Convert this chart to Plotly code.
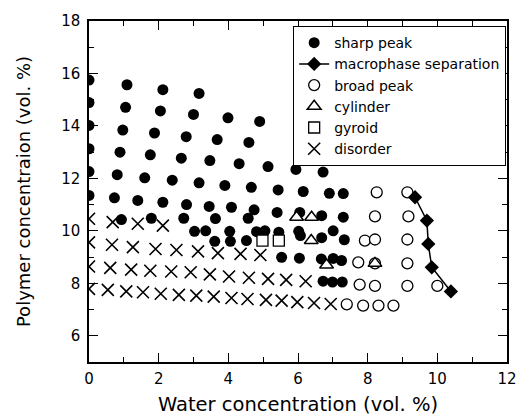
import plotly.graph_objects as go

# ---- data ----
sharp_x = [0, 1.09, 2.12, 3.16,
           0, 1.05, 2.05, 3.0, 3.99, 4.9,
           0, 0.97, 1.88, 2.79, 3.68, 4.59,
           0, 0.89, 1.76, 2.65, 3.47, 4.31, 5.14, 5.94, 6.72,
           0, 0.81, 1.6, 2.39, 3.16, 3.9, 4.66, 5.43, 6.15, 6.9, 7.3,
           0, 0.73, 1.4, 2.12, 2.8, 3.45, 4.09, 4.74, 5.4, 6.05, 6.68, 7.3,
           0.93, 1.79, 2.72, 3.63, 4.57,
           3.03, 3.35, 4.04, 4.81, 5.05, 5.45, 6.02, 6.07, 6.68, 7.01, 7.33,
           3.61, 4.06, 4.52,
           5.53, 6.04, 6.67, 7.01, 7.25,
           6.72, 6.99, 7.27]
sharp_y = [15.75, 15.57, 15.38, 15.24,
           14.89, 14.71, 14.57, 14.44, 14.31, 14.17,
           14.02, 13.84, 13.73, 13.59, 13.48, 13.37,
           13.13, 13.0, 12.9, 12.77, 12.68, 12.56, 12.45, 12.34, 12.24,
           12.26, 12.14, 12.02, 11.93, 11.83, 11.73, 11.66, 11.56, 11.5, 11.43, 11.42,
           11.35, 11.26, 11.16, 11.09, 11.0, 10.93, 10.9, 10.8, 10.7, 10.7, 10.58, 10.52,
           10.43, 10.48, 10.48, 10.47, 10.48,
           9.98, 10.0, 9.98, 9.97, 10.0, 9.95, 9.98, 9.82, 9.74, 10.0, 9.66,
           9.6, 9.6, 9.63,
           8.99, 8.96, 8.93, 8.95, 8.87,
           8.08, 8.05, 8.05]

macro_x = [9.36, 9.7, 9.74, 9.84, 10.39]
macro_y = [11.28, 10.39, 9.5, 8.61, 7.69]

broad_x = [8.26, 9.14, 8.21, 9.17, 7.92, 8.21, 9.14, 7.73, 8.21, 9.14,
           7.77, 8.21, 9.14, 10.0, 7.4, 7.87, 8.31, 8.74]
broad_y = [11.47, 11.47, 10.55, 10.55, 9.63, 9.67, 9.67, 8.8, 8.76, 8.76,
           7.95, 7.9, 7.9, 7.9, 7.2, 7.15, 7.15, 7.15]

cyl_x = [5.96, 6.39, 6.38, 6.82, 8.21]
cyl_y = [10.52, 10.52, 9.63, 8.7, 8.76]

gyr_x = [4.98, 5.45]
gyr_y = [9.63, 9.63]

dis_x = [0, 0.68, 1.4, 2.12,
         0, 0.66, 1.26, 1.91, 2.51, 3.13, 3.7, 4.35, 4.92,
         0, 0.61, 1.21, 1.76, 2.36, 2.92, 3.47, 4.02, 4.59, 5.14, 5.66, 6.22,
         0, 0.54, 1.07, 1.55, 2.06, 2.58, 3.08, 3.58, 4.09, 4.55, 5.08, 5.53, 5.98, 6.46, 6.94]
dis_y = [10.46, 10.33, 10.27, 10.2,
         9.56, 9.47, 9.38, 9.31, 9.27, 9.22, 9.15, 9.12, 9.08,
         8.64, 8.59, 8.52, 8.48, 8.45, 8.42, 8.34, 8.26, 8.21, 8.17, 8.13, 8.08,
         7.79, 7.75, 7.69, 7.66, 7.6, 7.56, 7.53, 7.49, 7.44, 7.4, 7.37, 7.34, 7.28, 7.25, 7.21]

x_ticks = [0, 2, 4, 6, 8, 10, 12]
y_ticks = [6, 8, 10, 12, 14, 16, 18]

FONT = "DejaVu Sans"

fig = go.Figure()
fig.add_trace(go.Scatter(x=sharp_x, y=sharp_y, mode="markers", name="sharp peak",
                         legendrank=1,
                         marker=dict(symbol="circle", size=11, color="black")))
fig.add_trace(go.Scatter(x=broad_x, y=broad_y, mode="markers", name="broad peak",
                         legendrank=3,
                         marker=dict(symbol="circle", size=11, color="white",
                                     line=dict(color="black", width=1.3))))
fig.add_trace(go.Scatter(x=cyl_x, y=cyl_y, mode="markers", name="cylinder",
                         legendrank=4,
                         marker=dict(symbol="triangle-up", size=12, color="white",
                                     line=dict(color="black", width=1.5))))
fig.add_trace(go.Scatter(x=gyr_x, y=gyr_y, mode="markers", name="gyroid",
                         legendrank=5,
                         marker=dict(symbol="square", size=11, color="white",
                                     line=dict(color="black", width=1.3))))
fig.add_trace(go.Scatter(x=dis_x, y=dis_y, mode="markers", name="disorder",
                         legendrank=6,
                         marker=dict(symbol="x-thin-open", size=12, color="black",
                                     line=dict(color="black", width=1.6))))
fig.add_trace(go.Scatter(x=macro_x, y=macro_y, mode="lines+markers",
                         name="macrophase separation", legendrank=2,
                         line=dict(color="black", width=1.5),
                         marker=dict(symbol="diamond", size=11, color="black")))

axis_common = dict(
    showline=True, linecolor="black", linewidth=1.5, mirror="ticks",
    ticks="inside", ticklen=9, tickwidth=1.3, tickcolor="black",
    showgrid=False, zeroline=False, automargin=False,
    tickfont=dict(family=FONT, size=15, color="black"),
    minor=dict(ticks="inside", ticklen=5, tickwidth=1.3, tickcolor="black", dtick=1),
)

fig.update_xaxes(range=[0, 12], tickvals=x_ticks, ticktext=[str(v) for v in x_ticks],
                 ticklabelstandoff=2,
                 title=dict(text="Water concentration (vol. %)", standoff=11,
                            font=dict(family=FONT, size=19.5, color="black")),
                 **axis_common)
fig.update_yaxes(range=[5, 18], tickvals=y_ticks, ticktext=[str(v) for v in y_ticks],
                 ticklabelstandoff=4,
                 title=dict(text="Polymer concentraion (vol. %)", standoff=26,
                            font=dict(family=FONT, size=18, color="black")),
                 **axis_common)

fig.update_layout(
    width=518, height=419,
    margin=dict(l=89, r=11, t=21, b=57),
    paper_bgcolor="white", plot_bgcolor="white",
    font=dict(family=FONT, color="black"),
    legend=dict(x=0.998, y=0.985, xanchor="right", yanchor="top",
                bgcolor="white", bordercolor="black", borderwidth=1,
                font=dict(family=FONT, size=14, color="black"),
                tracegroupgap=0, itemwidth=30),
)

fig.write_html("out.html")
